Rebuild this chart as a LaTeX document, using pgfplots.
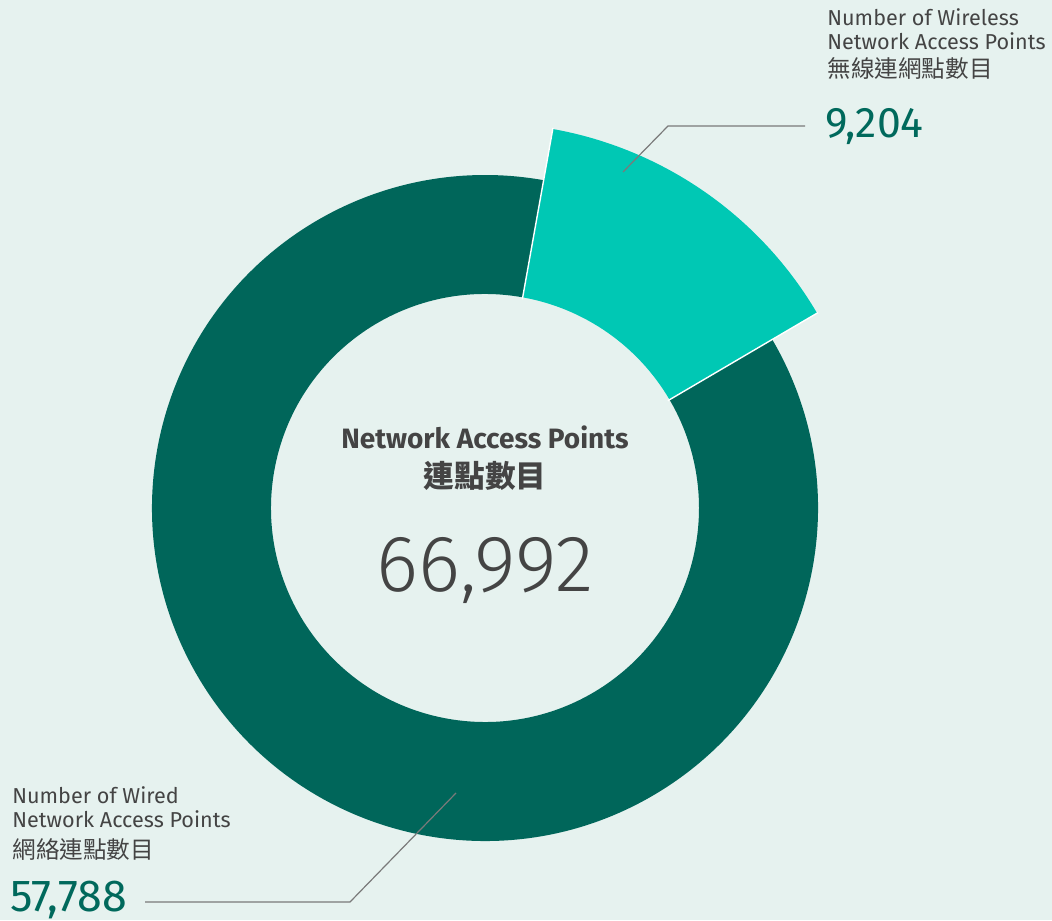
\documentclass[border=0pt]{standalone}
\usepackage{pgfplots}
\usepackage{pgfplotstable}
\pgfplotsset{compat=1.18}
\usepackage{fontspec}
\setmainfont{Fira Sans}
\newfontfamily\cjk{Noto Sans CJK TC}
\IfFontExistsTF{Fira Sans Light}{\newfontfamily\lightfont{Fira Sans Light}}{\newfontfamily\lightfont{Fira Sans}}

\definecolor{bg}{HTML}{E6F2EF}
\definecolor{wired}{HTML}{00665A}
\definecolor{wireless}{HTML}{00C8B4}
\definecolor{txt}{HTML}{444444}
\definecolor{num}{HTML}{00695C}
\definecolor{lead}{HTML}{7A7A7A}

\pgfplotstableread{
label value
Wireless 9204
Wired 57788
}\datatable
\pgfplotstablegetelem{0}{value}\of\datatable \let\vwl=\pgfplotsretval
\pgfplotstablegetelem{1}{value}\of\datatable \let\vwd=\pgfplotsretval
\edef\aEnd{30.4}
\edef\aStart{\fpeval{round(\aEnd+\vwl/(\vwl+\vwd)*360,3)}}
\edef\aWiredEnd{\fpeval{\aEnd+360}}

\begin{document}%
\begin{tikzpicture}
\begin{axis}[
  width=526pt, height=460pt, scale only axis,
  xmin=0, xmax=1052, ymin=0, ymax=920,
  hide axis, ticks=none, clip=false,
  axis background/.style={fill=bg},
]
\coordinate (SW) at (rel axis cs:0,0);
\coordinate (NE) at (rel axis cs:1,1);
% wired slice
\fill[wired, shift={(axis cs:485,412)}]
  (\aStart:107pt) arc[start angle=\aStart, end angle=\aWiredEnd, radius=107pt]
  -- (\aWiredEnd:166.5pt) arc[start angle=\aWiredEnd, end angle=\aStart, radius=166.5pt] -- cycle;
% wireless slice (exploded)
\fill[wireless, shift={(axis cs:485,412)}]
  (\aEnd:107pt) arc[start angle=\aEnd, end angle=\aStart, radius=107pt]
  -- (\aStart:192.5pt) arc[start angle=\aStart, end angle=\aEnd, radius=192.5pt] -- cycle;
% separators
\draw[white, line width=0.7pt, shift={(axis cs:485,412)}] (\aEnd:106pt) -- (\aEnd:193pt);
\draw[white, line width=0.7pt, shift={(axis cs:485,412)}] (\aStart:106pt) -- (\aStart:193pt);
% leader lines
\draw[lead, line width=0.6pt] (axis cs:623,748) -- (axis cs:668,794) -- (axis cs:805,794);
\draw[lead, line width=0.6pt] (axis cs:456,127) -- (axis cs:350,18) -- (axis cs:145,18);
% wireless label
\node[anchor=base west, inner sep=0, text=txt, font=\fontsize{10.8pt}{12pt}\selectfont] at (axis cs:827,894) {Number of Wireless};
\node[anchor=base west, inner sep=0, text=txt, font=\fontsize{10.8pt}{12pt}\selectfont] at (axis cs:827,870) {Network Access Points};
\node[anchor=base west, inner sep=0, text=txt, font=\cjk\fontsize{11.8pt}{13pt}\selectfont] at (axis cs:827,842) {無線連網點數目};
\node[anchor=base west, inner sep=0, text=num, font=\fontsize{21.4pt}{23pt}\selectfont] at (axis cs:825,782) {9,204};
% wired label
\node[anchor=base west, inner sep=0, text=txt, font=\fontsize{10.8pt}{12pt}\selectfont] at (axis cs:12,117) {Number of Wired};
\node[anchor=base west, inner sep=0, text=txt, font=\fontsize{10.8pt}{12pt}\selectfont] at (axis cs:12,93) {Network Access Points};
\node[anchor=base west, inner sep=0, text=txt, font=\cjk\fontsize{11.8pt}{13pt}\selectfont] at (axis cs:12,62) {網絡連點數目};
\node[anchor=base west, inner sep=0, text=num, font=\fontsize{22.4pt}{24pt}\selectfont] at (axis cs:10,9) {57,788};
% centre
\node[anchor=base, inner sep=0, text=txt, font=\bfseries\fontsize{14pt}{16pt}\selectfont] at (axis cs:485,471) {Network Access Points};
\node[anchor=base, inner sep=0, text=txt, font=\cjk\bfseries\fontsize{15.3pt}{17pt}\selectfont] at (axis cs:485,432) {連點數目};
\node[anchor=base, inner sep=0, text=txt, font=\lightfont\fontsize{40pt}{44pt}\selectfont] at (axis cs:485,328) {66,992};
\end{axis}
\pgfresetboundingbox
\path[use as bounding box] (SW) rectangle (NE);
\end{tikzpicture}%
\end{document}
